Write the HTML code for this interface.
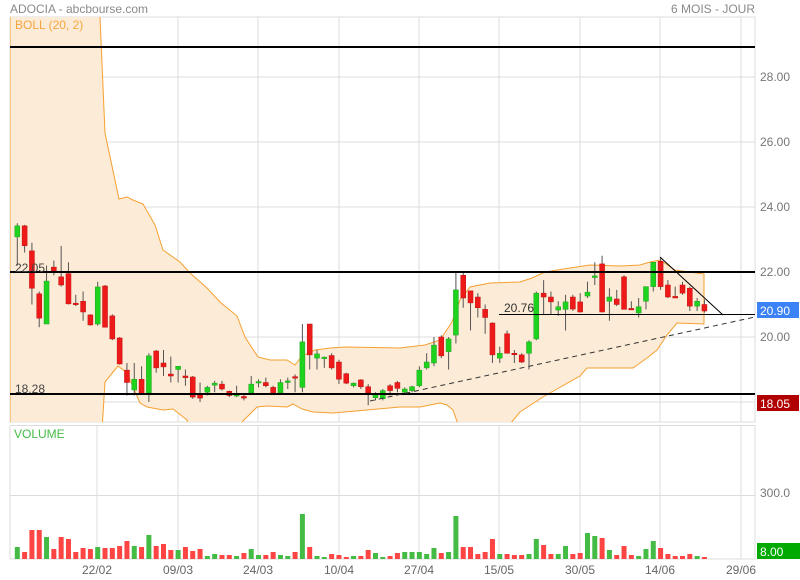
<!DOCTYPE html>
<html><head><meta charset="utf-8">
<style>
html,body{margin:0;padding:0;background:#fff;}
svg{display:block;font-family:"Liberation Sans",sans-serif;}
</style></head><body>
<svg id="s" width="800" height="580" xmlns="http://www.w3.org/2000/svg">
<rect width="800" height="580" fill="#fff"/>
<g id="grid"></g>
<path id="band" fill="#fcebd6" stroke="#f5a030" stroke-width="1"/>
<g id="cd"></g>
<g id="vol"></g>
<g id="ov"></g>
<text x="10" y="13" font-size="12" fill="#8a8a8a">ADOCIA - abcbourse.com</text>
<text x="755" y="13" font-size="12" fill="#8a8a8a" text-anchor="end">6 MOIS - JOUR</text>
<text x="15" y="29" font-size="12" fill="#f5a540">BOLL (20, 2)</text>
<text x="14" y="438" font-size="12" fill="#44bb44">VOLUME</text>
</svg>
<script>
const NS="http://www.w3.org/2000/svg";
function el(p,t,a,txt){const e=document.createElementNS(NS,t);for(const k in a)e.setAttribute(k,a[k]);if(txt!==undefined)e.textContent=txt;document.getElementById(p).appendChild(e);return e;}
const Y=p=>337-(p-20)*32.5;
// grid
[77,142,207,272,337,402].forEach(y=>el('grid','line',{x1:10,x2:755,y1:y,y2:y,stroke:'#dcdcdc'}));
const vx=[97,178,258,339,419,499,580,660,741];
vx.forEach(x=>{el('grid','line',{x1:x,x2:x,y1:17,y2:422,stroke:'#dcdcdc'});el('grid','line',{x1:x,x2:x,y1:425,y2:559,stroke:'#dcdcdc'});});
el('grid','line',{x1:10,x2:755,y1:495.5,y2:495.5,stroke:'#dcdcdc'});
el('grid','rect',{x:10,y:17,width:745,height:405,fill:'none',stroke:'#dcdcdc'});
el('grid','rect',{x:10,y:425.5,width:745,height:133.5,fill:'none',stroke:'#dcdcdc'});
// band
const up=[[10,-10],[100,-10],[100,17],[105,133],[119,199],[127,197],[133,200],[143,204],[155,225],[163,250],[180,262],[190,273],[207,288],[220,302],[237,316],[245,337],[258,357],[270,360],[287,360],[295,365],[302,356],[315,350],[330,348],[345,347],[400,348],[425,345],[440,340],[452,322],[460,300],[470,287],[490,283],[520,282],[532,278],[545,272],[570,268],[590,265],[620,266],[640,265],[650,262],[660,260],[675,270],[704,274]];
const lo=[[704,324],[677,323],[667,335],[657,350],[647,358],[633,368],[587,368],[580,376],[557,389],[543,397],[520,412],[505,430],[460,430],[453,410],[447,405],[440,403],[420,407],[400,407],[367,410],[333,413],[313,412],[302,409],[293,404],[287,407],[267,406],[257,407],[242,422],[240,440],[190,440],[187,420],[173,409],[163,410],[147,407],[140,403],[127,373],[118,366],[105,382],[102,430],[10,430]];
let d='M'+up.map(p=>p.join(',')).join('L')+'L'+lo.map(p=>p.join(',')).join('L')+'Z';
document.getElementById('band').setAttribute('d',d);
// clip
const cp=el('s','clipPath',{id:'c1'});const r=document.createElementNS(NS,'rect');r.setAttribute('x',10);r.setAttribute('y',17);r.setAttribute('width',745);r.setAttribute('height',405);cp.appendChild(r);
document.getElementById('band').setAttribute('clip-path','url(#c1)');
// candles [o,c,h,l]
const C=[[23.08,23.42,23.5,22.2],[23.42,22.81,23.45,22.6],[22.65,21.5,22.9,21.0],[21.33,20.58,21.4,20.3],[20.4,21.72,22.2,20.4],[22.15,22.03,22.35,21.9],[21.85,21.6,22.8,21.55],[21.95,21.02,22.3,21.0],[21.04,21.0,21.3,20.95],[21.1,20.77,21.4,20.5],[20.68,20.37,20.7,20.35],[20.4,21.54,21.7,20.35],[21.57,20.3,21.6,20.3],[20.65,19.94,20.7,19.9],[19.97,19.17,20.0,19.15],[18.98,18.6,19.2,18.2],[18.37,18.7,19.2,18.2],[18.7,18.26,19.1,18.26],[18.28,19.42,19.5,18.0],[19.57,19.05,19.6,18.9],[19.2,19.08,19.6,18.8],[18.86,18.8,19.4,18.6],[19.0,19.1,19.1,18.6],[18.8,18.75,19.0,18.5],[18.77,18.15,18.8,18.1],[18.22,18.12,18.6,18.0],[18.3,18.45,18.5,18.2],[18.52,18.58,18.65,18.3],[18.55,18.4,18.65,18.35],[18.33,18.2,18.35,18.15],[18.2,18.23,18.5,18.15],[18.17,18.12,18.25,18.05],[18.28,18.55,18.8,18.28],[18.6,18.63,18.7,18.45],[18.6,18.5,18.75,18.45],[18.45,18.28,18.5,18.25],[18.28,18.6,18.7,18.28],[18.6,18.65,18.75,18.4],[18.78,18.78,18.85,18.3],[18.45,19.85,20.4,18.3],[20.4,19.45,20.4,19.0],[19.35,19.48,19.6,19.0],[19.35,19.38,19.4,19.05],[19.43,19.05,19.5,19.0],[19.23,18.7,19.3,18.55],[18.87,18.58,18.9,18.55],[18.5,18.58,18.6,18.45],[18.68,18.47,18.7,18.4],[18.47,18.28,18.55,17.9],[18.13,18.22,18.3,18.05],[18.1,18.35,18.4,18.05],[18.5,18.35,18.55,18.2],[18.6,18.42,18.65,18.3],[18.3,18.4,18.45,18.25],[18.35,18.47,18.5,18.3],[18.5,18.98,19.1,18.45],[19.05,19.23,19.5,19.0],[19.2,19.75,20.0,19.1],[20.0,19.42,20.05,19.35],[19.55,19.94,20.0,19.0],[20.06,21.45,22.0,19.8],[21.9,21.2,22.0,20.9],[21.42,21.05,21.42,20.2],[21.23,20.9,21.35,20.6],[20.85,20.6,21.0,20.1],[20.43,19.45,20.45,19.2],[19.35,19.5,19.7,19.2],[20.1,19.5,20.2,19.5],[19.5,19.5,19.6,19.2],[19.45,19.23,19.5,19.2],[19.5,19.85,19.9,19.0],[19.94,21.35,21.4,19.9],[21.35,21.23,21.75,20.7],[21.23,21.08,21.4,20.7],[20.83,20.93,21.1,20.65],[20.85,21.08,21.3,20.2],[21.23,20.86,21.3,20.8],[21.08,20.77,21.35,20.75],[21.26,21.38,21.7,21.2],[21.83,21.88,22.3,21.6],[22.25,20.77,22.5,20.75],[21.1,21.23,21.5,20.5],[21.17,21.0,21.45,20.95],[21.85,20.85,21.9,20.85],[20.88,20.88,21.1,20.85],[20.74,20.93,21.2,20.6],[21.1,21.55,21.55,20.85],[21.55,22.3,22.3,21.4],[22.33,21.55,22.45,21.45],[21.6,21.23,21.75,21.2],[21.25,21.2,21.55,21.2],[21.6,21.35,21.7,21.3],[21.5,20.95,21.55,20.8],[20.95,21.1,21.2,20.8],[21.0,20.8,21.15,20.75]];
const V=[12,7,29,29,22,10,22,20,7,11,10,12,11,11,13,18,13,12,24,13,15,9,9,12,8,10,3,5,4,4,3,6,10,4,4,7,4,3,7,45,12,3,2,5,4,2,3,3,9,6,2,3,6,7,7,7,5,11,6,7,43,12,12,5,7,20,5,5,4,4,5,20,14,5,5,13,5,6,26,23,21,9,4,13,4,3,10,18,11,5,3,3,5,3,2];
C.forEach((c,i)=>{
  const x=17.3+i*7.31;const [o,cl,h,l]=c;const g=cl>o;
  el('cd','line',{x1:x,x2:x,y1:Y(h),y2:Y(l),stroke:'#555','stroke-width':1});
  const t=Y(Math.max(o,cl)),b=Y(Math.min(o,cl));
  el('cd','rect',{x:x-2.5,y:t,width:5,height:Math.max(b-t,1.5),fill:g?'#1ed31e':'#ee1a1a',stroke:g?'#22a022':'#c01010','stroke-width':0.5});
  const vh=V[i]||0;
  el('vol','rect',{x:x-2.5,y:559-vh,width:5,height:vh,fill:g?'#44bb44':'#ff4444'});
});
// overlays
[[47],[272],[394]].forEach(a=>el('ov','line',{x1:10,x2:755,y1:a[0],y2:a[0],stroke:'#000','stroke-width':2}));
el('ov','line',{x1:499,x2:755,y1:314.5,y2:314.5,stroke:'#000','stroke-width':1});
el('ov','line',{x1:370,x2:755,y1:401,y2:317,stroke:'#333','stroke-width':1,'stroke-dasharray':'5,4'});
el('ov','line',{x1:660,x2:723,y1:257,y2:315,stroke:'#000','stroke-width':1});
el('ov','text',{x:15,y:272,'font-size':12,fill:'#444'},'22.05');
el('ov','text',{x:15,y:393,'font-size':12,fill:'#444'},'18.28');
el('ov','text',{x:504,y:312,'font-size':12,fill:'#333'},'20.76');
// right axis
[['28.00',77],['26.00',142],['24.00',207],['22.00',272],['20.00',337]].forEach(a=>el('ov','text',{x:760,y:a[1]+4,'font-size':12,fill:'#777'},a[0]));
el('ov','text',{x:760,y:497,'font-size':12,fill:'#777'},'300.0');
el('ov','rect',{x:757,y:302,width:42,height:16,fill:'#3b82f6'});
el('ov','text',{x:760,y:315,'font-size':12,fill:'#fff'},'20.90');
el('ov','rect',{x:757,y:395,width:42,height:16,fill:'#b00000'});
el('ov','text',{x:760,y:408,'font-size':12,fill:'#fff'},'18.05');
el('ov','rect',{x:757,y:543,width:43,height:16,fill:'#00aa00'});
el('ov','text',{x:760,y:556,'font-size':12,fill:'#fff'},'8.00');
// dates
['22/02','09/03','24/03','10/04','27/04','15/05','30/05','14/06','29/06'].forEach((t,i)=>el('ov','text',{x:vx[i],y:574,'font-size':12,fill:'#666','text-anchor':'middle'},t));
</script>
</body></html>
